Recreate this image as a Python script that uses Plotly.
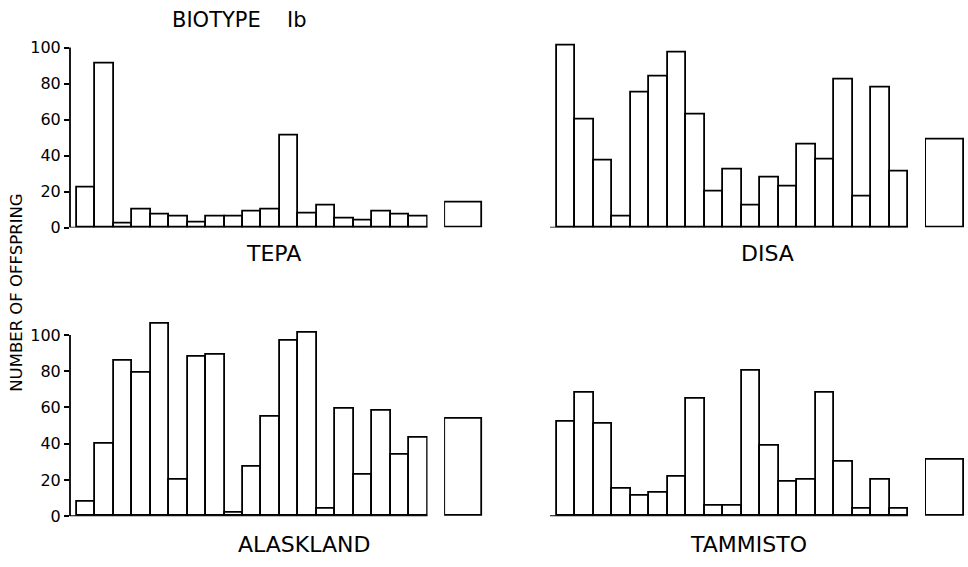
import plotly.graph_objects as go

# Offspring counts per individual (19 bars) and the mean bar, per population
tepa = [22, 91, 2, 10, 7, 6, 3, 6, 6, 9, 10, 51, 8, 12, 5, 4, 9, 7, 6]
tepa_mean = 14
disa = [101, 60, 37, 6, 75, 84, 97, 63, 20, 32, 12, 28, 23, 46, 38, 82, 17, 78, 31]
disa_mean = 49
alaskland = [8, 40, 86, 79, 106, 20, 88, 89, 2, 27, 55, 97, 101, 4, 59, 23, 58, 34, 43]
alaskland_mean = 54
tammisto = [52, 68, 51, 15, 11, 13, 22, 65, 6, 6, 80, 39, 19, 20, 68, 30, 4, 20, 4]
tammisto_mean = 31

panel_names = ["TEPA", "DISA", "ALASKLAND", "TAMMISTO"]
y_ticks = [0, 20, 40, 60, 80, 100]

W, H = 968, 567
FONT = "DejaVu Sans"
LW = 1.8


def px_x(a, b):
    return [a / W, b / W]


def px_y(top, bottom):
    return [1 - bottom / H, 1 - top / H]


# panel geometry: (main x domain, mean x domain, y domain, show y axis)
panels = [
    (tepa, tepa_mean, px_x(70, 427.5), px_x(444.1, 483), px_y(30.1, 231.7), True),
    (disa, disa_mean, px_x(550, 908), px_x(925, 965), px_y(30.1, 231.7), False),
    (alaskland, alaskland_mean, px_x(70, 427.5), px_x(444.1, 483), px_y(322.5, 525.5), True),
    (tammisto, tammisto_mean, px_x(550, 908), px_x(925, 965), px_y(322.5, 525.5), False),
]

fig = go.Figure()
layout = {}
shapes = []
bar_style = dict(color="white", line=dict(color="black", width=LW))

for i, (vals, mean, xd_main, xd_mean, yd, show_y) in enumerate(panels):
    n_main = 2 * i + 1
    n_mean = 2 * i + 2
    sx_main = "" if n_main == 1 else str(n_main)
    sx_mean = str(n_mean)

    fig.add_trace(go.Bar(
        x=list(range(1, len(vals) + 1)), y=vals, width=[1] * len(vals),
        marker=bar_style, xaxis="x" + sx_main, yaxis="y" + sx_main,
        showlegend=False, hoverinfo="x+y",
    ))
    fig.add_trace(go.Bar(
        x=[0], y=[mean], width=[2],
        marker=bar_style, xaxis="x" + sx_mean, yaxis="y" + sx_mean,
        showlegend=False, hoverinfo="y",
    ))

    layout["xaxis" + sx_main] = dict(
        domain=xd_main, range=[0.12, 19.5], anchor="y" + sx_main,
        showline=False, showticklabels=False, ticks="",
        showgrid=False, zeroline=False,
    )
    layout["yaxis" + sx_main] = dict(
        domain=yd, range=[0, 110], anchor="x" + sx_main,
        showline=False, showgrid=False, zeroline=False,
        tickvals=y_ticks if show_y else [],
        ticks="outside" if show_y else "", ticklen=5, tickwidth=1.5,
        tickcolor="black", showticklabels=show_y,
        tickfont=dict(family=FONT, size=16, color="black"),
    )
    layout["xaxis" + sx_mean] = dict(
        domain=xd_mean, range=[-1.05, 1.05], anchor="y" + sx_mean,
        visible=False,
    )
    layout["yaxis" + sx_mean] = dict(
        domain=yd, range=[0, 110], anchor="x" + sx_mean, visible=False,
    )

    # baseline along the individual bars
    shapes.append(dict(
        type="line", xref="x" + sx_main + " domain", yref="y" + sx_main,
        x0=0, x1=1, y0=0, y1=0,
        line=dict(color="black", width=LW),
    ))
    if show_y:
        # vertical axis line runs only from 0 to 100
        shapes.append(dict(
            type="line", xref="x" + sx_main + " domain", yref="y" + sx_main,
            x0=0, x1=0, y0=0, y1=100,
            line=dict(color="black", width=LW),
        ))

# panel labels and header
label_pos = [(273, 258), (767, 258), (304, 554), (748, 554)]
annotations = []
for name, (cx, cy) in zip(panel_names, label_pos):
    annotations.append(dict(
        text=name, x=cx / W, y=1 - cy / H, xref="paper", yref="paper",
        showarrow=False, xanchor="center", yanchor="middle",
        font=dict(family=FONT, size=22, color="black"),
    ))
annotations.append(dict(
    text="BIOTYPE", x=216 / W, y=1 - 20 / H, xref="paper", yref="paper",
    showarrow=False, xanchor="center", yanchor="middle",
    font=dict(family=FONT, size=21, color="black"),
))
annotations.append(dict(
    text="Ib", x=297 / W, y=1 - 20 / H, xref="paper", yref="paper",
    showarrow=False, xanchor="center", yanchor="middle",
    font=dict(family=FONT, size=21, color="black"),
))
annotations.append(dict(
    text="NUMBER OF OFFSPRING", x=17 / W, y=1 - 298 / H, xref="paper", yref="paper",
    showarrow=False, xanchor="center", yanchor="middle", textangle=-90,
    font=dict(family=FONT, size=16.5, color="black"),
))

fig.update_layout(
    width=W, height=H,
    margin=dict(l=0, r=0, t=0, b=0),
    paper_bgcolor="white", plot_bgcolor="white",
    bargap=0, showlegend=False,
    shapes=shapes, annotations=annotations,
    **layout,
)

fig.write_html("out.html")
